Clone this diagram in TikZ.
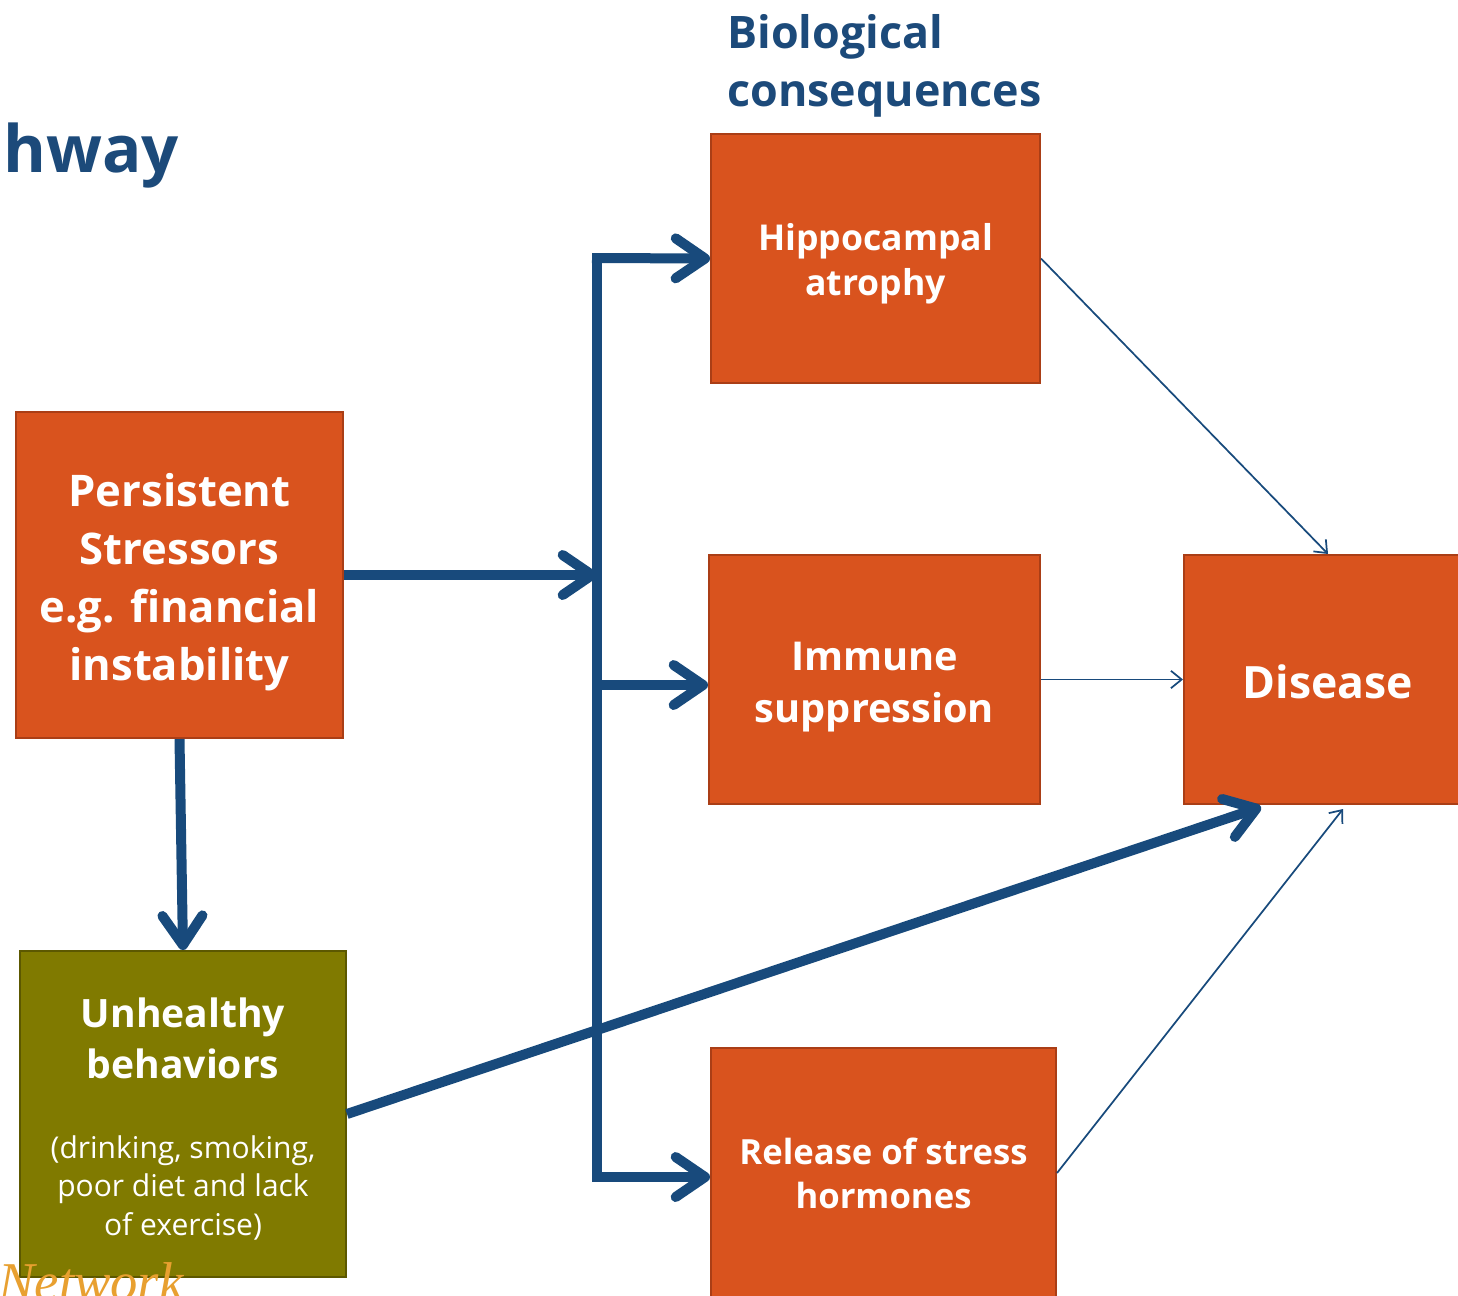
\documentclass[tikz,border=0pt]{standalone}
\usepackage{fontspec}
\setmainfont{Open Sans}
\newfontfamily\netfont{Liberation Serif}
\usetikzlibrary{arrows.meta,calc}
\definecolor{boxor}{RGB}{217,83,30}
\definecolor{boxorb}{RGB}{170,62,22}
\definecolor{olivebox}{RGB}{128,122,0}
\definecolor{oliveb}{RGB}{92,88,0}
\definecolor{arrblue}{RGB}{24,74,124}
\definecolor{titleblue}{RGB}{28,74,122}
\definecolor{netor}{RGB}{232,160,48}
\newcommand\smalltxt{\fontsize{22.5}{29}\selectfont\mdseries}
\tikzset{
  obox/.style={draw=boxorb,fill=boxor,line width=1.5pt,inner sep=0pt},
  gbox/.style={draw=oliveb,fill=olivebox,line width=1.5pt,inner sep=0pt},
  btxt/.style={text=white,align=center,inner sep=0pt},
  thick arr/.style={draw=arrblue,line width=7.5pt,-{Straight Barb[length=22pt,width=30pt,round]}},
  thick line/.style={draw=arrblue,line width=7.5pt},
  thin arr/.style={draw=arrblue,line width=1.3pt,-{Straight Barb[length=8pt,width=13pt]}},
}
\begin{document}
\begin{tikzpicture}[x=0.75pt,y=-0.75pt]
\useasboundingbox (0,0) rectangle (1458,1295);
\clip (0,0) rectangle (1458,1295);
\fill[white] (0,0) rectangle (1458,1295);
% titles
\node[anchor=base west,inner sep=0pt,text=titleblue,font=\fontsize{49}{55}\selectfont\bfseries] (hw) at (3,172) {hway};
\node[anchor=north west,inner sep=0pt,text=titleblue,align=left,font=\fontsize{33.6}{43.5}\selectfont\bfseries] (bc) at (727,14) {Biological\\consequences};
% boxes
\node[obox,minimum width=245.25pt,minimum height=244.5pt,
  label={[btxt,yshift=-5.25pt,font=\fontsize{32.7}{43.5}\selectfont\bfseries]center:Persistent\\Stressors\\e.g. financial\\instability}] (P) at (179.5,575) {};
\node[gbox,minimum width=244.5pt,minimum height=244.5pt,
  label={[btxt,yshift=-3.75pt,font=\fontsize{29.3}{38}\selectfont\bfseries]center:Unhealthy\\behaviors\\[22pt]\smalltxt (drinking, smoking,\\[-9pt]\smalltxt poor diet and lack\\[-9pt]\smalltxt of exercise)}] (U) at (183,1114) {};
\node[obox,minimum width=246.75pt,minimum height=186.75pt,
  label={[btxt,yshift=-3.75pt,font=\fontsize{26.7}{34}\selectfont\bfseries]center:Hippocampal\\atrophy}] (H) at (875.5,258.5) {};
\node[obox,minimum width=248.25pt,minimum height=186.75pt,
  label={[btxt,yshift=-6pt,font=\fontsize{29.8}{39}\selectfont\bfseries]center:Immune\\suppression}] (I) at (874.5,679.5) {};
\node[obox,minimum width=258.75pt,minimum height=187.5pt,
  label={[btxt,font=\fontsize{26}{33}\selectfont\bfseries]center:Release of stress\\hormones}] (R) at (883.5,1173) {};
\node[obox,minimum width=216pt,minimum height=186.75pt,
  label={[btxt,yshift=-1.5pt,font=\fontsize{33.4}{40}\selectfont\bfseries]center:Disease}] (D) at (1328,679.5) {};
% network text
\node[anchor=base west,inner sep=0pt,text=netor,font=\fontsize{41}{41}\selectfont\netfont\itshape] (net) at (-2,1300) {Network};
% trunk
\coordinate (t1) at (597,258);
\coordinate (t2) at (597,575);
\coordinate (t3) at (597,685);
\coordinate (t4) at (597,1177);
\draw[thick line,line cap=butt] ($(t1)+(0,-5)$) -- ($(t4)+(0,5)$);
\draw[thick arr] (P.east |- t2) -- (t2);
\draw[thick arr] ($(t1)+(-5,0)$) -- (H.west);
\draw[thick arr] (t3) -- (t3 -| I.west);
\draw[thick arr] ($(t4)+(-5,0)$) -- (t4 -| R.west);
\draw[thick arr] (P.south) -- (U.north);
\coordinate (dU) at ($(D.south west)+(78,2)$);
\draw[thick arr] (U.east) -- (dU);
% thin arrows
\draw[thin arr] (H.east) -- (D.north);
\draw[thin arr] (I.east) -- (D.west);
\coordinate (dR) at ($(D.south)+(15,4)$);
\draw[thin arr] (R.east) -- (dR);
\end{tikzpicture}
\end{document}
